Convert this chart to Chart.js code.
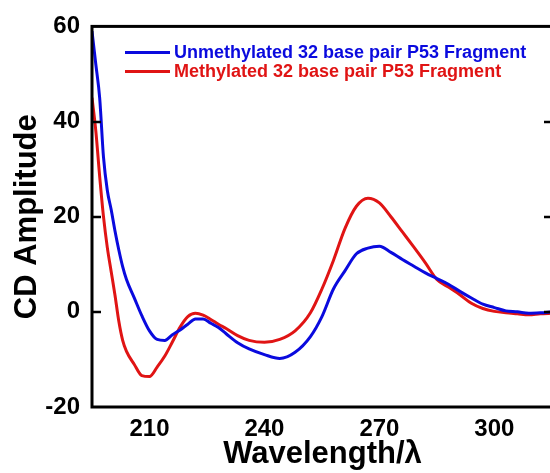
<!DOCTYPE html>
<html>
<head>
<meta charset="utf-8">
<script src="https://cdn.jsdelivr.net/npm/chart.js@4.4.1/dist/chart.umd.min.js"></script>
<style>
  html, body { margin: 0; padding: 0; background: #fff; overflow: hidden; }
  #wrap { width: 553px; height: 473px; }
</style>
</head>
<body>
<div id="wrap"><canvas id="cdChart"></canvas></div>
<script>
// wavelength grid (nm)
const wavelengths = [195, 196, 197, 198, 199, 200, 201, 202, 203, 204, 206, 208, 210, 212, 214, 216, 218, 220, 222, 224,
    226, 228, 230, 233, 236, 240, 244, 248, 252, 255, 258, 261, 264, 267, 270, 273, 276, 279, 282, 285,
    288, 291, 294, 297, 300, 303, 306, 309, 312, 315];

// unmethylated fragment
const unmethylated = [59, 52, 45, 32.5, 25.5, 21.5, 17, 13, 9.5, 6.8, 3, -0.8, -4, -5.8, -6, -4.8, -3.8, -2.6, -1.5, -1.5,
    -2.4, -3.3, -4.6, -6.5, -7.8, -9, -9.8, -8.5, -5.2, -1, 4.8, 8.6, 12.2, 13.4, 13.8, 12.5, 11, 9.6, 8.2, 7,
    5.8, 4.3, 2.9, 1.6, 0.9, 0.2, 0, -0.3, -0.2, 0];

// methylated fragment
const methylated = [45, 38, 28.5, 20, 13.5, 8.5, 3.5, -2, -6, -8.3, -11, -13.4, -13.6, -11.6, -9.3, -6.3, -3.2, -1, -0.3, -0.7,
    -1.6, -2.6, -3.5, -5, -6, -6.4, -5.8, -4, -0.2, 4.8, 10.8, 17.5, 22.2, 23.9, 22.9, 20, 16.8, 13.6, 10.3, 6.8,
    5.2, 3.6, 1.8, 0.7, 0.1, -0.2, -0.4, -0.6, -0.4, -0.3];

const seriesLabels = ['Unmethylated 32 base pair P53 Fragment', 'Methylated 32 base pair P53 Fragment'];
const xTicks = [210, 240, 270, 300];
const yTicks = [-20, 0, 20, 40, 60];

const BLUE = '#0a0ade';
const RED = '#e01414';
const FONT = 'Liberation Sans, Arial, Helvetica, sans-serif';

function toPoints(ys) {
    return wavelengths.map((x, i) => ({ x: x, y: ys[i] }));
}

// frame + inward tick marks + legend inside the plot
const framePlugin = {
    id: 'frame',
    afterDraw(chart) {
        const ctx = chart.ctx;
        const a = chart.chartArea;
        const ys = chart.scales.y;
        ctx.save();
        ctx.strokeStyle = '#000';
        ctx.lineWidth = 3;
        ctx.strokeRect(a.left, a.top, a.right - a.left, a.bottom - a.top);
        ctx.lineWidth = 2.5;
        yTicks.forEach(v => {
            if (v === ys.min || v === ys.max) return;
            const py = Math.round(ys.getPixelForValue(v));
            ctx.beginPath();
            ctx.moveTo(a.left, py);
            ctx.lineTo(a.left + 9, py);
            ctx.moveTo(a.right, py);
            ctx.lineTo(a.right - 9, py);
            ctx.stroke();
        });
        // legend
        ctx.font = 'bold 18px ' + FONT;
        ctx.textBaseline = 'middle';
        chart.data.datasets.forEach((ds, i) => {
            const ly = a.top + 26 + i * 19;
            ctx.strokeStyle = ds.borderColor;
            ctx.lineWidth = 3;
            ctx.beginPath();
            ctx.moveTo(a.left + 33, ly);
            ctx.lineTo(a.left + 78, ly);
            ctx.stroke();
            ctx.fillStyle = ds.borderColor;
            ctx.fillText(ds.label, a.left + 82, ly + 1);
        });
        ctx.restore();
    }
};

const ctx = document.getElementById('cdChart').getContext('2d');
const cdChart = new Chart(ctx, {
    type: 'line',
    data: {
        datasets: [{
            label: seriesLabels[0],
            data: toPoints(unmethylated),
            borderColor: BLUE,
            borderWidth: 3,
            pointRadius: 0,
            cubicInterpolationMode: 'monotone',
            fill: false,
        }, {
            label: seriesLabels[1],
            data: toPoints(methylated),
            borderColor: RED,
            borderWidth: 3,
            pointRadius: 0,
            cubicInterpolationMode: 'monotone',
            fill: false,
        }]
    },
    options: {
        responsive: true,
        maintainAspectRatio: false,
        animation: false,
        layout: { padding: { left: 0, top: 26, right: 0, bottom: 0 } },
        plugins: {
            legend: { display: false },
            tooltip: { enabled: false },
        },
        scales: {
            x: {
                type: 'linear',
                min: 195,
                max: 315.3,
                grid: { display: false, drawTicks: false },
                border: { display: false },
                afterBuildTicks: scale => { scale.ticks = xTicks.map(v => ({ value: v })); },
                afterFit: scale => { scale.height = 66; },
                ticks: {
                    color: '#000',
                    padding: 8,
                    maxRotation: 0,
                    font: { family: FONT, size: 24, weight: 'bold' },
                },
                title: {
                    display: true,
                    text: 'Wavelength/λ',
                    color: '#000',
                    padding: { top: 0, bottom: 0 },
                    font: { family: FONT, size: 31, weight: 'bold' },
                },
            },
            y: {
                min: -20,
                max: 60,
                grid: { display: false, drawTicks: false },
                border: { display: false },
                afterBuildTicks: scale => { scale.ticks = yTicks.map(v => ({ value: v })); },
                afterFit: scale => { scale.width = 92; },
                ticks: {
                    color: '#000',
                    padding: 12,
                    font: { family: FONT, size: 24, weight: 'bold' },
                },
                title: {
                    display: true,
                    text: 'CD Amplitude',
                    color: '#000',
                    padding: { top: 9, bottom: 0 },
                    font: { family: FONT, size: 31, weight: 'bold' },
                },
            }
        }
    },
    plugins: [framePlugin]
});
</script>
</body>
</html>
